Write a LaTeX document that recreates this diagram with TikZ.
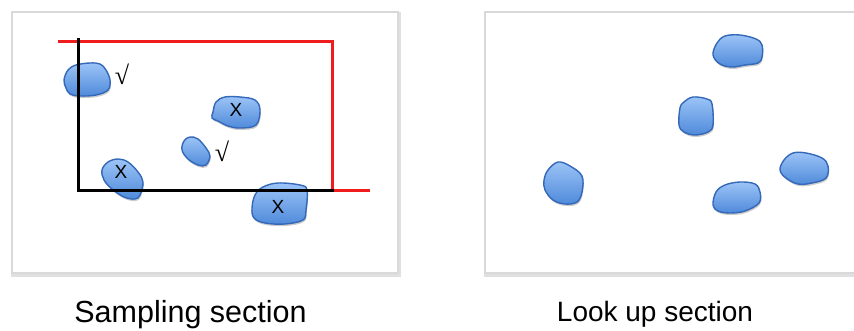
\documentclass[tikz,border=0pt]{standalone}
\usepackage{fontspec}
\setmainfont{Liberation Sans}
\newfontfamily\serifck{Liberation Serif}
\usetikzlibrary{shadings}
\definecolor{blobtop}{HTML}{9CC4F7}
\definecolor{blobbot}{HTML}{4F8ADA}
\definecolor{blobline}{HTML}{3468B8}
\definecolor{panelline}{HTML}{D9D9D9}
\definecolor{redline}{HTML}{EE1C1C}
\tikzset{
  blob/.style={top color=blobtop, bottom color=blobbot, draw=blobline, line width=1.4pt,
    preaction={fill=black, opacity=0.2, transform canvas={shift={(0.8pt,-2pt)}}}},
  panel/.style={draw=panelline, line width=1.6pt, fill=white,
    preaction={draw=black!12, line width=4pt, transform canvas={shift={(1pt,-2pt)}}}},
  xmark/.style={font=\fontsize{19}{19}\selectfont, inner sep=0pt},
  ck/.style={font=\serifck\fontsize{26}{26}\selectfont, inner sep=0pt},
  caption/.style={inner sep=0pt, anchor=base},
  bound/.style={line width=3pt, line cap=rect}
}
\begin{document}
\begin{tikzpicture}[x=1pt,y=-1pt]
\clip (0,0) rectangle (854,330);
\fill[white] (0,0) rectangle (854,330);
% panels
\draw[panel] (12,12) rectangle (398,273);
\draw[panel] (485,12) rectangle (880,273);
% left blobs
\draw[blob] plot[smooth cycle, tension=0.6] coordinates {(66,88) (64,80) (68,70) (76,65) (90,63) (100,64) (106,70) (110,80) (108,90) (96,95) (80,96) (70,94)};
\draw[blob] plot[smooth cycle, tension=0.6] coordinates {(213,112) (216,102) (225,97) (240,97) (255,100) (260,110) (256,125) (240,128) (228,126) (218,121) (212,118)};
\draw[blob] plot[smooth cycle, tension=0.6] coordinates {(182,150) (184,141) (190,137) (198,139) (206,148) (210,156) (206,165) (198,165) (188,159)};
\draw[blob] plot[smooth cycle, tension=0.6] coordinates {(102,170) (108,162) (118,159) (128,162) (138,172) (143,182) (140,195) (135,199) (124,197) (112,189) (104,180)};
\draw[blob] plot[smooth cycle, tension=0.6] coordinates {(252,208) (255,195) (263,187) (278,183) (300,185) (307,190) (306,210) (303,220) (285,224) (265,223) (254,218)};
% right blobs
\draw[blob] plot[smooth cycle, tension=0.6] coordinates {(713,55) (717,43) (725,36) (740,35) (756,39) (762,45) (762,57) (758,63) (745,65) (732,67) (720,64)};
\draw[blob] plot[smooth cycle, tension=0.6] coordinates {(680,108) (684,102) (693,97) (707,99) (712,104) (713,125) (708,132) (695,135) (684,132) (679,125)};
\draw[blob] plot[smooth cycle, tension=0.6] coordinates {(544,180) (548,170) (558,162) (570,166) (582,176) (582,192) (577,202) (565,204) (553,200) (545,190)};
\draw[blob] plot[smooth cycle, tension=0.6] coordinates {(713,205) (716,192) (725,185) (740,182) (755,184) (760,192) (759,203) (745,211) (730,213) (718,211)};
\draw[blob] plot[smooth cycle, tension=0.6] coordinates {(780,170) (784,160) (793,153) (806,153) (822,158) (828,166) (826,178) (812,183) (798,184) (786,178)};
% boundary lines
\coordinate (r1) at (58,41.5);
\coordinate (r2) at (332,41.5);
\coordinate (r3) at (332,190);
\coordinate (r4) at (370,190);
\coordinate (b1) at (78,39);
\coordinate (b2) at (78,190);
\coordinate (b3) at (332,190);
\draw[bound, redline, line cap=butt] (r1) -- (r2) -- (r3) -- (r4);
\draw[bound, black] (b1) -- (b2) -- (b3);
% marks
\node[xmark] (x1) at (236,110) {X};
\node[xmark] (x2) at (121,172) {X};
\node[xmark] (x3) at (278,207) {X};
\node[ck] (c1) at (122,74) {√};
\node[ck] (c2) at (222,151) {√};
% captions
\node[caption, font=\fontsize{30.5}{32}\selectfont] (cap1) at (190.5,322) {Sampling section};
\node[caption, font=\fontsize{28}{30}\selectfont] (cap2) at (655,321) {Look up section};
\end{tikzpicture}
\end{document}
